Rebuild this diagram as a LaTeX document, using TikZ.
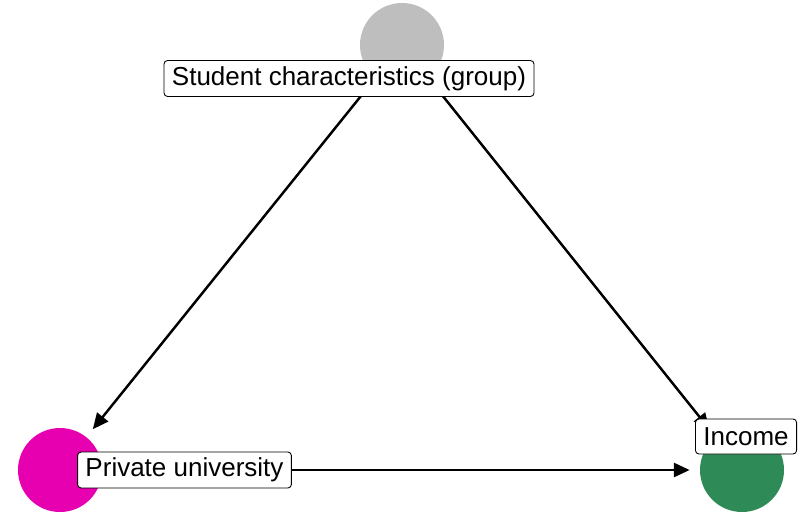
\documentclass[tikz,border=0pt]{standalone}
\usepackage{fontspec}
\setmainfont{Liberation Sans}
\usepackage{xcolor}
\usepackage{tikz}
\usetikzlibrary{arrows.meta}
\definecolor{nodegray}{RGB}{190,190,190}
\definecolor{nodemagenta}{RGB}{230,0,176}
\definecolor{nodegreen}{RGB}{46,139,87}

\begin{document}
\begin{tikzpicture}[
  dot/.style={circle,minimum size=1.68cm,inner sep=0pt},
  lab/.style={draw,fill=white,rounded corners=2pt,line width=0.5pt,inner xsep=4.5pt,
    minimum height=0.7cm,font=\fontsize{14.8}{17}\selectfont},
  edge/.style={line width=1.4pt,-{Triangle[length=9pt,width=8pt]},shorten >=0.2cm}]
\useasboundingbox (0,0) rectangle (16,10.24);
% variables
\node[dot,fill=nodegray] (group) at (8.04,9.34) {};
\node[dot,fill=nodemagenta] (private) at (1.2,0.84) {};
\node[dot,fill=nodegreen] (income) at (14.84,0.84) {};
% paths
\draw[edge] (group) -- (private);
\draw[edge] (group) -- (income);
\draw[edge] (private) -- (income);
% labels
\node[lab] (grouplab) at (6.98,8.67) {Student characteristics (group)};
\node[lab] (privatelab) at (3.69,0.84) {Private university};
\node[lab] (incomelab) at (14.92,1.51) {Income};
\end{tikzpicture}
\end{document}
